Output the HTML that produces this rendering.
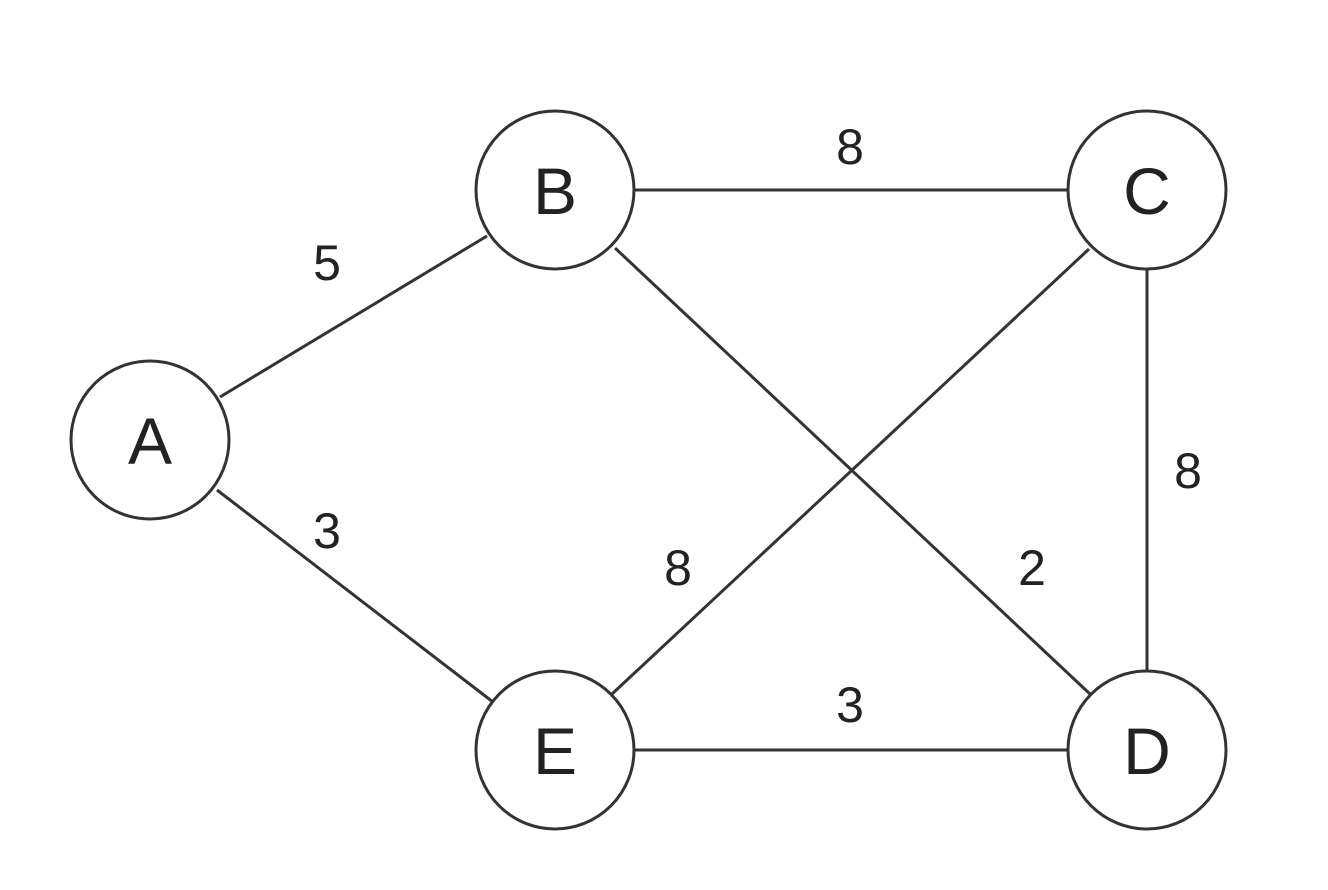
<!DOCTYPE html>
<html><head><meta charset="utf-8"><style>
html,body{margin:0;padding:0;background:#fff;}
svg{display:block;}
text{font-family:"Liberation Sans",sans-serif;fill:#222;}
</style></head><body>
<svg width="1328" height="890" viewBox="0 0 1328 890" xmlns="http://www.w3.org/2000/svg">
<g stroke="#333" stroke-width="3" fill="none">
<line x1="220" y1="397" x2="487" y2="236"/>
<line x1="217" y1="490" x2="493" y2="702"/>
<line x1="634" y1="190" x2="1068" y2="190"/>
<line x1="1089" y1="249" x2="612" y2="694"/>
<line x1="615" y1="248" x2="1090" y2="694"/>
<line x1="1147" y1="269" x2="1147" y2="671"/>
<line x1="634" y1="750" x2="1068" y2="750"/>
<circle cx="150" cy="440" r="79" fill="#fff"/>
<circle cx="555" cy="190" r="79" fill="#fff"/>
<circle cx="1147" cy="190" r="79" fill="#fff"/>
<circle cx="1147" cy="750" r="79" fill="#fff"/>
<circle cx="555" cy="750" r="79" fill="#fff"/>
</g>
<g font-size="66" text-anchor="middle">
<text x="150" y="464">A</text>
<text x="555" y="214">B</text>
<text x="1147" y="214">C</text>
<text x="1147" y="774">D</text>
<text x="555" y="774">E</text>
</g>
<g font-size="50" text-anchor="middle">
<text x="327" y="280">5</text>
<text x="327" y="548">3</text>
<text x="850" y="164">8</text>
<text x="1188" y="488">8</text>
<text x="678" y="585">8</text>
<text x="1032" y="585">2</text>
<text x="850" y="722">3</text>
</g>
</svg>
</body></html>
